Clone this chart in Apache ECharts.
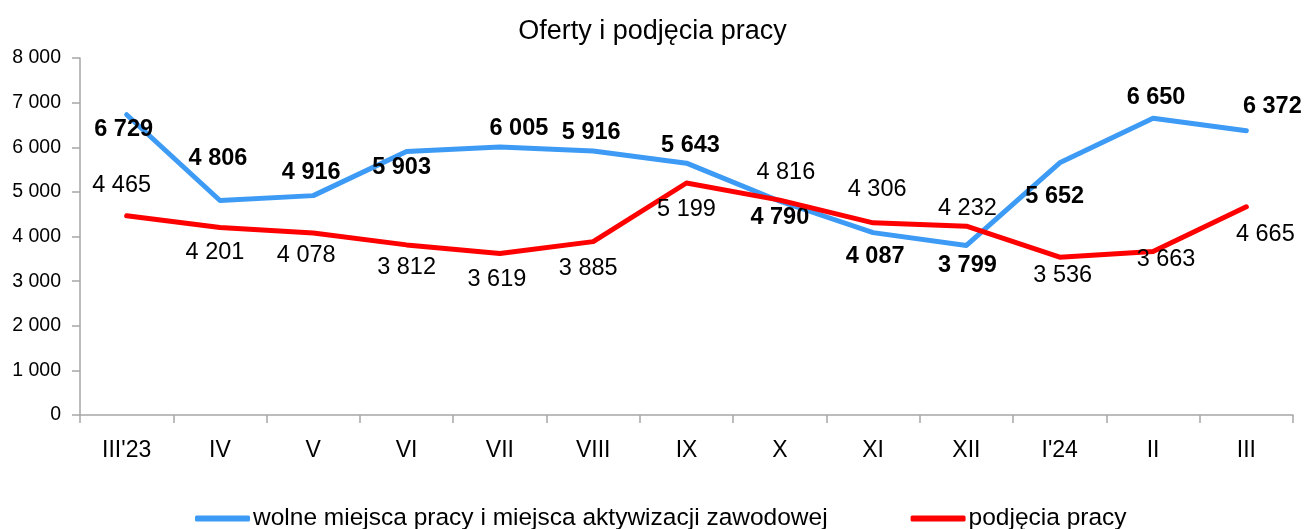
<!DOCTYPE html>
<html>
<head>
<meta charset="utf-8">
<script src="https://cdn.jsdelivr.net/npm/echarts@6/dist/echarts.min.js"></script>
<style>
  html, body { margin: 0; padding: 0; background: #fff; }
  #chart { width: 1305px; height: 529px; }
</style>
</head>
<body>
<div id="chart"></div>
<script>
// ---- data ----
const categories = ["III'23", "IV", "V", "VI", "VII", "VIII", "IX", "X", "XI", "XII", "I'24", "II", "III"];
const seriesNames = ["wolne miejsca pracy i miejsca aktywizacji zawodowej", "podjęcia pracy"];
const wolneMiejsca = [6729, 4806, 4916, 5903, 6005, 5916, 5643, 4790, 4087, 3799, 5652, 6650, 6372];
const podjecia = [4465, 4201, 4078, 3812, 3619, 3885, 5199, 4816, 4306, 4232, 3536, 3663, 4665];
const yTicks = [0, 1000, 2000, 3000, 4000, 5000, 6000, 7000, 8000];

// ---- label placement (pixel offsets from each point) ----
const blueLabelOffsets = [[-3,15],[-2,-42],[-2,-23],[-5,16],[19,-19],[-2,-18],[4,-18],[0,16],[2,24],[1,20],[-5,34],[3,-21],[26,-24]];
const redLabelOffsets = [[-5,-30],[-5,25],[-7,22],[0,23],[-3,26],[-5,27],[0,27],[6,-28],[4,-33],[1,-18],[3,18],[13,8],[19,28]];

const FONT = 'Liberation Sans';
const fmt = v => String(v).replace(/\B(?=(\d{3})+(?!\d))/g, ' ');

function buildData(values, offsets, bold) {
  return values.map((v, i) => ({
    value: v,
    label: {
      show: true,
      position: 'inside',
      offset: offsets[i],
      formatter: p => fmt(p.value),
      fontFamily: FONT,
      fontSize: 23.5,
      fontWeight: bold ? 'bold' : 'normal',
      color: '#000'
    }
  }));
}

const chart = echarts.init(document.getElementById('chart'), null, { renderer: 'canvas' });
chart.setOption({
  animation: false,
  backgroundColor: '#fff',
  title: {
    text: 'Oferty i podjęcia pracy',
    left: 'center',
    top: 13,
    textStyle: { fontFamily: FONT, fontSize: 27, fontWeight: 'normal', color: '#000' }
  },
  grid: { left: 80, right: 12, top: 58, bottom: 114, containLabel: false },
  legend: {
    left: 195,
    top: 506,
    padding: 0,
    itemWidth: 55,
    itemHeight: 6,
    itemGap: 83,
    icon: 'roundRect',
    textStyle: { fontFamily: FONT, fontSize: 24.5, color: '#000', padding: [0, 0, 0, -2] },
    data: seriesNames
  },
  xAxis: {
    type: 'category',
    data: categories,
    boundaryGap: true,
    axisLine: { lineStyle: { color: '#a6a6a6', width: 1.5 } },
    axisTick: { show: true, length: 8, alignWithLabel: false, lineStyle: { color: '#a6a6a6', width: 1.5 } },
    axisLabel: { margin: 24, fontFamily: FONT, fontSize: 23, color: '#000' }
  },
  yAxis: {
    type: 'value',
    min: 0,
    max: 8000,
    interval: 1000,
    axisLine: { show: true, lineStyle: { color: '#a6a6a6', width: 1.5 } },
    axisTick: { show: true, length: 8, lineStyle: { color: '#a6a6a6', width: 1.5 } },
    splitLine: { show: false },
    axisLabel: {
      margin: 19,
      fontFamily: FONT,
      fontSize: 19.5,
      color: '#000',
      formatter: v => yTicks.includes(v) ? fmt(v) : ''
    }
  },
  series: [
    {
      name: seriesNames[0],
      type: 'line',
      data: buildData(wolneMiejsca, blueLabelOffsets, true),
      symbol: 'circle',
      symbolSize: 0.1,
      lineStyle: { color: '#3d9bf5', width: 5, cap: 'round', join: 'round' },
      itemStyle: { color: '#3d9bf5' },
      z: 3
    },
    {
      name: seriesNames[1],
      type: 'line',
      data: buildData(podjecia, redLabelOffsets, false),
      symbol: 'circle',
      symbolSize: 0.1,
      lineStyle: { color: '#ff0000', width: 5, cap: 'round', join: 'round' },
      itemStyle: { color: '#ff0000' },
      z: 4
    }
  ]
});
</script>
</body>
</html>
